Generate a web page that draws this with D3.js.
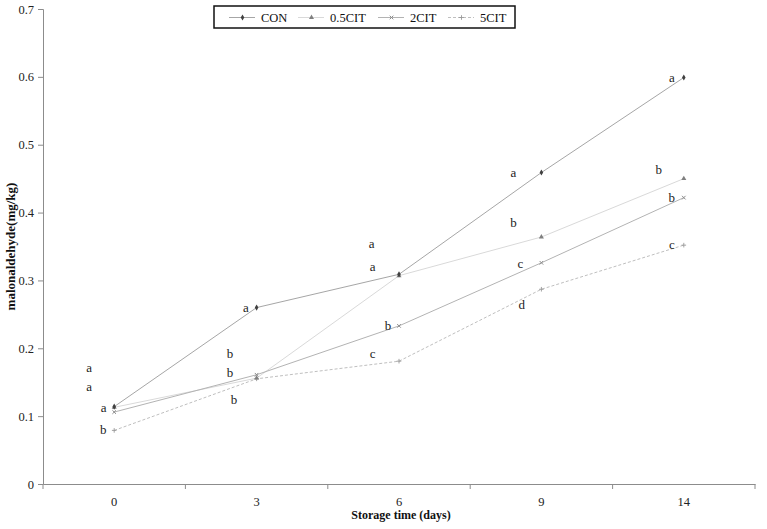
<!DOCTYPE html>
<html><head><meta charset="utf-8">
<script src="https://cdn.jsdelivr.net/npm/d3@7"></script>
<style>body{margin:0;background:#fff}svg{display:block}text{font-family:"Liberation Serif","Times New Roman",serif}</style>
</head><body><svg id="c" width="767" height="529"></svg>
<script>
const days = ["0","3","6","9","14"];
const yTicks = [0,0.1,0.2,0.3,0.4,0.5,0.6,0.7];
const seriesNames = ["CON","0.5CIT","2CIT","5CIT"];
const conValues   = [0.114,0.260,0.309,0.459,0.599];
const cit05Values = [0.113,0.156,0.307,0.364,0.450];
const cit2Values  = [0.106,0.161,0.233,0.326,0.422];
const cit5Values  = [0.079,0.155,0.181,0.287,0.352];
// significance letters: day index, letter, value level
const letterDay   = [0,0,0,0, 1,1,1,1, 2,2,2,2, 3,3,3,3, 4,4,4,4];
const letterText  = ["a","a","a","b", "a","b","b","b", "a","a","b","c", "a","b","c","d", "a","b","b","c"];
const letterValue = [0.171,0.143,0.112,0.079, 0.259,0.192,0.164,0.123, 0.353,0.319,0.232,0.191, 0.458,0.385,0.324,0.263, 0.598,0.463,0.421,0.352];
const letterDx    = [-25,-25,-10.5,-11, -10.6,-26.6,-26.6,-22.6, -27.3,-26.3,-11,-26.3, -28,-28,-21,-19.7, -12,-25,-12,-12];

const svg = d3.select("#c");
const L=43, R=755, T=9, B=484;
const x = d3.scaleBand().domain(days).range([L,R]);
const y = d3.scaleLinear().domain([0,0.7]).range([B,T]);
const axisCol="#8c8c8c";

// y axis
const ya = svg.append("g").attr("transform",`translate(${L},0)`).call(d3.axisLeft(y).tickValues(yTicks).tickSize(5).tickPadding(4).tickFormat(d=>d===0?"0":d3.format(".1f")(d)));
ya.select(".domain").attr("stroke",axisCol);
ya.selectAll(".tick line").attr("stroke",axisCol);
ya.selectAll("text").attr("font-size",12.5).attr("fill","#222").attr("font-family","Liberation Serif");

// x axis
const xa = svg.append("g").attr("transform",`translate(0,${B})`).call(d3.axisBottom(x).tickSize(0).tickPadding(13));
xa.select(".domain").attr("stroke",axisCol);
xa.selectAll("text").attr("font-size",12.5).attr("fill","#222").attr("font-family","Liberation Serif");
const bounds = days.map(d=>x(d)).concat([R]);
svg.append("g").selectAll("line").data(bounds).join("line")
  .attr("x1",d=>d).attr("x2",d=>d).attr("y1",B).attr("y2",B+5).attr("stroke",axisCol);

// titles
svg.append("text").attr("x",(L+R)/2+2).attr("y",519).attr("text-anchor","middle")
  .attr("font-size",12).attr("font-weight","bold").attr("fill","#111").text("Storage time (days)");
svg.append("text").attr("transform",`translate(15,${(T+B)/2}) rotate(-90)`).attr("text-anchor","middle")
  .attr("font-size",13).attr("font-weight","bold").attr("fill","#111").text("malonaldehyde(mg/kg)");

const series = [
  {name:seriesNames[0], values:conValues,   stroke:"#a6a6a6", dash:null,  mark:"diamond",  mcol:"#404040"},
  {name:seriesNames[1], values:cit05Values, stroke:"#d9d9d9", dash:null,  mark:"triangle", mcol:"#7f7f7f"},
  {name:seriesNames[2], values:cit2Values,  stroke:"#b3b3b3", dash:null,  mark:"x",        mcol:"#8c8c8c"},
  {name:seriesNames[3], values:cit5Values,  stroke:"#bfbfbf", dash:"3,2", mark:"plus",     mcol:"#999999"}
];
const cx = d => x(d)+x.bandwidth()/2;
const line = d3.line().x(d=>cx(d.day)).y(d=>y(d.v));

function drawMarker(g, type, col, px, py){
  if(type==="diamond") g.append("path").attr("d",d3.symbol(d3.symbolDiamond,11)()).attr("transform",`translate(${px},${py})`).attr("fill",col);
  else if(type==="triangle") g.append("path").attr("d",d3.symbol(d3.symbolTriangle,11)()).attr("transform",`translate(${px},${py})`).attr("fill",col);
  else if(type==="x") g.append("path").attr("d",`M${px-1.8},${py-1.8}L${px+1.8},${py+1.8}M${px-1.8},${py+1.8}L${px+1.8},${py-1.8}`).attr("stroke",col).attr("stroke-width",1);
  else g.append("path").attr("d",`M${px-2.3},${py}L${px+2.3},${py}M${px},${py-2.3}L${px},${py+2.3}`).attr("stroke",col).attr("stroke-width",0.9);
}

series.forEach(s=>{
  const pts = days.map((d,i)=>({day:d,v:s.values[i]}));
  svg.append("path").datum(pts).attr("d",line).attr("fill","none").attr("stroke",s.stroke)
    .attr("stroke-width",1).attr("stroke-dasharray",s.dash);
});
series.slice().reverse().forEach(s=>{
  const g=svg.append("g");
  days.forEach((d,i)=>drawMarker(g,s.mark,s.mcol,cx(d),y(s.values[i])));
});

// letters
svg.append("g").selectAll("text").data(letterText).join("text")
  .attr("x",(d,i)=>cx(days[letterDay[i]])+letterDx[i])
  .attr("y",(d,i)=>y(letterValue[i]))
  .attr("dy","0.3em").attr("text-anchor","middle").attr("font-size",13).attr("fill","#222").text(d=>d);

// legend
const lg = svg.append("g");
lg.append("rect").attr("x",214).attr("y",6).attr("width",301).attr("height",22).attr("fill","#fff").attr("stroke","#111").attr("stroke-width",1.5);
const legX = [229,298,378,448];
series.forEach((s,i)=>{
  const ly=17.5;
  lg.append("line").attr("x1",legX[i]).attr("x2",legX[i]+26).attr("y1",ly).attr("y2",ly).attr("stroke",s.stroke).attr("stroke-width",1).attr("stroke-dasharray",s.dash);
  drawMarker(lg,s.mark,s.mcol,legX[i]+13.5,ly);
  lg.append("text").attr("x",legX[i]+32).attr("y",ly).attr("dy","0.35em").attr("font-size",12.5).attr("fill","#111").text(s.name);
});
</script></body></html>
